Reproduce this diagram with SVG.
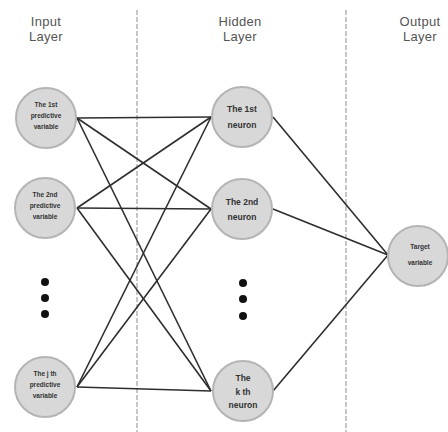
<svg xmlns="http://www.w3.org/2000/svg" width="448" height="432" viewBox="0 0 448 432">
  <style>
    .title { font-family: "Liberation Sans", Arial, sans-serif; font-size: 13px; fill: #555; text-anchor: middle; letter-spacing: 0.3px; }
    .node circle { fill: #d8d8d8; stroke: #b4b4b4; stroke-width: 2; }
    .in text { font-family: "Liberation Sans", Arial, sans-serif; font-size: 6.5px; font-weight: bold; fill: #333; text-anchor: middle; }
    .hid text { font-family: "Liberation Sans", Arial, sans-serif; font-size: 8.5px; font-weight: bold; fill: #333; text-anchor: middle; }
    .divider { stroke: #a0a0a0; stroke-width: 1.2; stroke-dasharray: 5 2; }
    .links line { stroke: #2e2e2e; stroke-width: 1.6; }
    .dots circle { fill: #111; }
  </style>

  <rect width="448" height="432" fill="#fff"/>

  <!-- layer titles -->
  <g id="titles">
    <text class="title" x="46" y="26">Input</text>
    <text class="title" x="46" y="41">Layer</text>
    <text class="title" x="240" y="26">Hidden</text>
    <text class="title" x="240" y="41">Layer</text>
    <text class="title" x="420" y="26">Output</text>
    <text class="title" x="420" y="41">Layer</text>
  </g>

  <!-- layer dividers -->
  <g id="dividers">
    <line class="divider" x1="137" y1="10" x2="137" y2="432"/>
    <line class="divider" x1="346" y1="10" x2="346" y2="432"/>
  </g>

  <!-- connectors -->
  <g id="connectors" class="links">
    <!-- input -> hidden -->
    <line x1="77" y1="118" x2="211" y2="117"/>
    <line x1="77" y1="118" x2="211" y2="209"/>
    <line x1="77" y1="118" x2="211" y2="391"/>
    <line x1="77" y1="208" x2="211" y2="117"/>
    <line x1="77" y1="208" x2="211" y2="209"/>
    <line x1="77" y1="208" x2="211" y2="391"/>
    <line x1="77" y1="387" x2="211" y2="117"/>
    <line x1="77" y1="387" x2="211" y2="209"/>
    <line x1="77" y1="387" x2="211" y2="391"/>
    <!-- hidden -> output -->
    <line x1="273" y1="117" x2="388" y2="255"/>
    <line x1="273" y1="209" x2="388" y2="255"/>
    <line x1="273" y1="391" x2="388" y2="255"/>
  </g>

  <!-- input nodes -->
  <g id="input1" class="node in">
    <circle cx="46" cy="118" r="30"/>
    <text x="46" y="107">The 1st</text>
    <text x="46" y="118">predictive</text>
    <text x="46" y="129">variable</text>
  </g>
  <g id="input2" class="node in">
    <circle cx="45" cy="208" r="30"/>
    <text x="45" y="197">The 2nd</text>
    <text x="45" y="208">predictive</text>
    <text x="45" y="219">variable</text>
  </g>
  <g id="inputj" class="node in">
    <circle cx="45" cy="387" r="30"/>
    <text x="45" y="376">The j th</text>
    <text x="45" y="387">predictive</text>
    <text x="45" y="398">variable</text>
  </g>

  <!-- hidden nodes -->
  <g id="hidden1" class="node hid">
    <circle cx="242" cy="117" r="30"/>
    <text x="242" y="112">The 1st</text>
    <text x="242" y="128">neuron</text>
  </g>
  <g id="hidden2" class="node hid">
    <circle cx="242" cy="209" r="30"/>
    <text x="242" y="205">The 2nd</text>
    <text x="242" y="220">neuron</text>
  </g>
  <g id="hiddenk" class="node hid">
    <circle cx="243" cy="391" r="30"/>
    <text x="243" y="381">The</text>
    <text x="243" y="395">k th</text>
    <text x="243" y="408">neuron</text>
  </g>

  <!-- output node -->
  <g id="output" class="node in">
    <circle cx="418" cy="256" r="30"/>
    <text x="420" y="249">Target</text>
    <text x="420" y="265">variable</text>
  </g>

  <!-- ellipsis dots -->
  <g id="ellipsis" class="dots">
    <circle cx="45" cy="282" r="4"/>
    <circle cx="45" cy="298" r="4"/>
    <circle cx="45" cy="314" r="4"/>
    <circle cx="243" cy="283" r="4"/>
    <circle cx="243" cy="299" r="4"/>
    <circle cx="243" cy="316" r="4"/>
  </g>
</svg>
